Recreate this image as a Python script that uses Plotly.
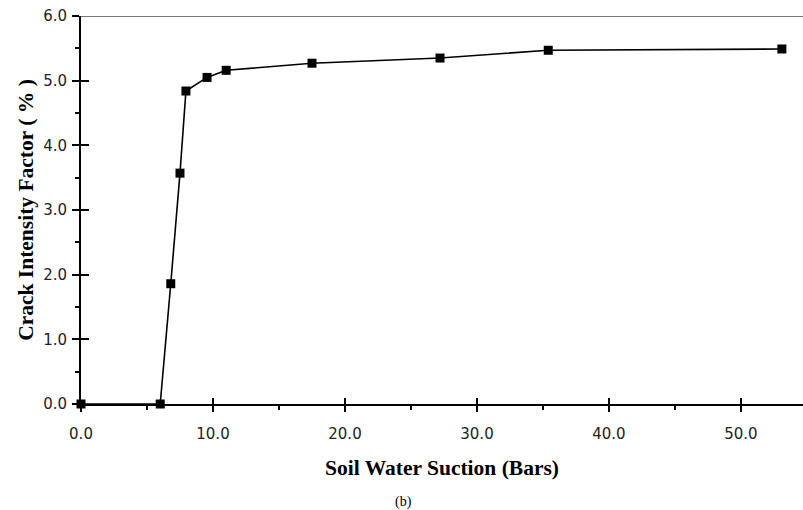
import plotly.graph_objects as go

suction_bars = [0.0, 6.0, 6.8, 7.5, 7.95, 9.55, 11.0, 17.5, 27.2, 35.4, 53.1]
crack_intensity = [0.0, 0.0, 1.86, 3.57, 4.84, 5.05, 5.16, 5.27, 5.35, 5.47, 5.49]

x_ticks = [0, 10, 20, 30, 40, 50]
x_tick_labels = ["0.0", "10.0", "20.0", "30.0", "40.0", "50.0"]
y_ticks = [0, 1, 2, 3, 4, 5, 6]
y_tick_labels = ["0.0", "1.0", "2.0", "3.0", "4.0", "5.0", "6.0"]

XR = [0, 54.7]
YR = [0, 6]

fig = go.Figure()
fig.add_trace(go.Scatter(
    x=suction_bars, y=crack_intensity, mode="lines+markers",
    line=dict(color="black", width=1.6),
    marker=dict(symbol="square", size=9, color="black"),
    cliponaxis=False, showlegend=False,
))

tickfont = dict(family="DejaVu Sans", size=15, color="#222")
titlefont = dict(family="Liberation Serif", size=21.5, color="black")

fig.update_layout(
    width=803, height=510,
    margin=dict(l=81, r=0, t=16, b=106, autoexpand=False),
    paper_bgcolor="white", plot_bgcolor="white",
    xaxis=dict(
        range=XR, tickvals=x_ticks, ticktext=x_tick_labels,
        ticks="outside", ticklen=6, tickwidth=2, tickcolor="black",
        showline=True, linecolor="black", linewidth=2,
        showgrid=False, zeroline=False, tickfont=tickfont, ticklabelstandoff=9,
        ticklabeloverflow="allow",
        minor=dict(dtick=5, ticks="outside", ticklen=4, tickwidth=1.5, tickcolor="black", showgrid=False),
        title=dict(text="<b>Soil Water Suction (Bars)</b>", font=titlefont, standoff=18),
    ),
    yaxis=dict(
        range=YR, tickvals=y_ticks, ticktext=y_tick_labels,
        ticks="outside", ticklen=7, tickwidth=2, tickcolor="black",
        showline=True, linecolor="black", linewidth=2,
        showgrid=False, zeroline=False, tickfont=tickfont, ticklabelstandoff=2,
        ticklabeloverflow="allow",
        minor=dict(dtick=0.5, ticks="outside", ticklen=4, tickwidth=1.5, tickcolor="black", showgrid=False),
        title=dict(text="<b>Crack Intensity Factor ( % )</b>", font=titlefont, standoff=4),
    ),
    xaxis2=dict(
        overlaying="x", range=XR, tickvals=x_ticks, showticklabels=False,
        ticks="inside", ticklen=6, tickwidth=2, tickcolor="black",
        showline=False, showgrid=False, zeroline=False,
    ),
    yaxis2=dict(
        overlaying="y", range=YR, tickvals=y_ticks, showticklabels=False,
        ticks="inside", ticklen=8, tickwidth=2, tickcolor="black",
        showline=False, showgrid=False, zeroline=False,
    ),
    shapes=[dict(type="line", xref="paper", x0=0, x1=1, yref="y", y0=6, y1=6,
                 line=dict(color="#777", width=2))],
    annotations=[dict(text="(b)", xref="paper", yref="paper", x=0.446, y=-0.2526,
                      xanchor="center", yanchor="middle", showarrow=False,
                      font=dict(family="Liberation Serif", size=14, color="black"))],
)
fig.add_trace(go.Scatter(x=[None], y=[None], xaxis="x2", yaxis="y2", showlegend=False, hoverinfo="skip"))

fig.write_html("out.html", config={"displayModeBar": False},
               post_script="document.body.style.margin='0px';document.body.style.overflow='hidden';")
